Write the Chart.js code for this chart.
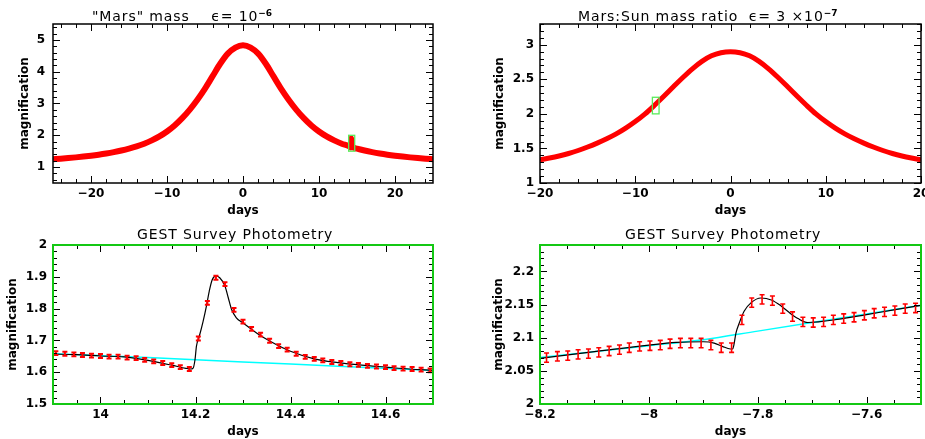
<!DOCTYPE html>
<html>
<head>
<meta charset="utf-8">
<script src="https://cdn.jsdelivr.net/npm/chart.js@4"></script>
<style>
body{margin:0;background:#fff;width:925px;height:439px;position:relative;overflow:hidden;font-family:"DejaVu Sans",sans-serif}
canvas{position:absolute}
.ttl{position:absolute;white-space:pre;font-size:14px;line-height:14px;letter-spacing:0.9px;color:#000}
.ttl sup{font-size:9px;font-weight:bold;vertical-align:5px;letter-spacing:0}
</style>
</head>
<body>
<canvas id="c1" width="460" height="220" style="left:0;top:0"></canvas>
<canvas id="c2" width="465" height="220" style="left:460px;top:0"></canvas>
<canvas id="c3" width="460" height="219" style="left:0;top:220px"></canvas>
<canvas id="c4" width="465" height="219" style="left:460px;top:220px"></canvas>
<div class="ttl" style="left:92px;top:6px">"Mars" mass    ϵ= 10<sup>−6</sup></div>
<div class="ttl" style="left:578px;top:6px">Mars:Sun mass ratio  ϵ= 3 ×10<sup>−7</sup></div>
<div class="ttl" style="left:137px;top:227px">GEST Survey Photometry</div>
<div class="ttl" style="left:625px;top:227px">GEST Survey Photometry</div>
<script>
// top left: full light curve, "Mars" mass
var days1 = [-25,-24,-23,-22,-21,-20,-19,-18,-17,-16,-15,-14,-13,-12,-11,-10,-9,-8,-7,-6,-5,-4,-3,-2,-1,
    0,1,2,3,4,5,6,7,8,9,10,11,12,13,14,14.19,14.25,14.3,14.45,15,16,17,18,19,20,21,22,23,24,25]
var mag1 = [1.246,1.264,1.284,1.306,1.331,1.359,1.391,1.428,1.471,1.521,1.58,1.65,1.735,1.84,1.965,2.12,2.31,2.54,2.81,3.12,3.47,3.86,4.25,4.57,4.76,
    4.83,4.76,4.57,4.25,3.86,3.47,3.12,2.81,2.54,2.31,2.12,1.965,1.84,1.735,1.65,1.615,1.90,1.755,1.642,1.58,1.521,1.471,1.428,1.391,1.359,1.331,1.306,1.284,1.264,1.246]

// top right: full light curve, Mars:Sun ratio
var days2 = [-20,-19,-18,-17,-16,-15,-14,-13,-12,-11,-10,-9,-8,-7,-6,-5,-4,-3,-2,-1,
    0,1,2,3,4,5,6,7,8,9,10,11,12,13,14,15,16,17,18,19,20]
var mag2 = [1.335,1.361,1.391,1.427,1.47,1.521,1.577,1.639,1.71,1.793,1.888,1.996,2.121,2.254,2.391,2.526,2.652,2.76,2.84,2.885,
    2.90,2.885,2.84,2.76,2.652,2.526,2.391,2.254,2.121,1.996,1.888,1.793,1.71,1.639,1.577,1.521,1.47,1.427,1.391,1.361,1.335]

// bottom left: GEST photometry around day 14.3
var days3 = [13.906,13.925,13.944,13.962,13.981,14.000,14.018,14.037,14.056,14.075,14.093,14.112,14.131,14.150,14.168,14.187,
    14.206,14.225,14.243,14.262,14.281,14.300,14.318,14.337,14.356,14.375,14.393,14.412,14.431,14.450,14.468,14.487,14.506,
    14.525,14.543,14.562,14.581,14.600,14.618,14.637,14.656,14.675,14.694]
var mag3 = [1.660,1.658,1.656,1.654,1.652,1.651,1.649,1.649,1.646,1.644,1.639,1.634,1.629,1.622,1.616,1.610,
    1.706,1.818,1.897,1.877,1.796,1.759,1.736,1.718,1.699,1.682,1.671,1.658,1.648,1.642,1.637,1.632,1.629,
    1.625,1.623,1.620,1.618,1.616,1.613,1.611,1.610,1.608,1.606]
var err3 = 0.006
var modelDays3 = [13.90,13.95,14.00,14.05,14.10,14.15,14.18,14.19,14.195,14.199,14.202,14.208,14.216,14.223,14.229,14.235,
    14.243,14.251,14.262,14.269,14.276,14.286,14.300,14.33,14.36,14.40,14.45,14.50,14.55,14.60,14.65,14.70]
var modelMag3 = [1.657,1.655,1.651,1.648,1.637,1.622,1.612,1.610,1.613,1.640,1.682,1.713,1.760,1.808,1.855,1.890,
    1.902,1.897,1.871,1.834,1.797,1.771,1.755,1.722,1.695,1.666,1.642,1.630,1.622,1.616,1.610,1.606]
var singleDays3 = [13.9,14.1,14.3,14.5,14.7]
var singleMag3 = [1.658,1.646,1.632,1.619,1.605]

// bottom right: GEST photometry around day -7.8
var days4 = [-8.188,-8.168,-8.149,-8.130,-8.111,-8.092,-8.073,-8.054,-8.036,-8.017,-7.998,-7.979,-7.961,-7.942,-7.923,-7.904,
    -7.886,-7.867,-7.848,-7.829,-7.811,-7.792,-7.773,-7.754,-7.736,-7.717,-7.698,-7.679,-7.661,-7.642,-7.623,-7.604,
    -7.586,-7.567,-7.548,-7.529,-7.510]
var mag4 = [2.070,2.072,2.073,2.075,2.076,2.078,2.080,2.082,2.085,2.087,2.088,2.089,2.091,2.092,2.092,2.092,
    2.089,2.085,2.085,2.127,2.153,2.158,2.156,2.144,2.132,2.124,2.123,2.124,2.127,2.129,2.131,2.134,
    2.137,2.139,2.141,2.144,2.145]
var err4 = 0.007
var modelDays4 = [-8.2,-8.1,-8.0,-7.95,-7.9,-7.88,-7.865,-7.85,-7.846,-7.844,-7.840,-7.834,-7.825,-7.812,-7.794,-7.775,
    -7.757,-7.742,-7.726,-7.708,-7.65,-7.6,-7.55,-7.5]
var modelMag4 = [2.069,2.079,2.089,2.093,2.094,2.092,2.087,2.083,2.083,2.088,2.107,2.122,2.140,2.153,2.160,2.157,
    2.148,2.138,2.129,2.123,2.128,2.135,2.142,2.149]
var singleDays4 = [-8.2,-8.0,-7.9,-7.8,-7.7,-7.6,-7.5]
var singleMag4 = [2.070,2.088,2.097,2.110,2.123,2.136,2.149]

// axis ranges and tick labels
var xRange1 = [-25,25], yRange1 = [0.5,5.5]
var xTicks1 = [-20,-10,0,10,20], yTicks1 = [1,2,3,4,5]
var xRange2 = [-20,20], yRange2 = [1,3.3]
var xTicks2 = [-20,-10,0,10,20], yTicks2 = [1,1.5,2,2.5,3]
var xRange3 = [13.9,14.7], yRange3 = [1.5,2.0]
var xTicks3 = [14,14.2,14.4,14.6], yTicks3 = [1.5,1.6,1.7,1.8,1.9,2]
var xRange4 = [-8.2,-7.5], yRange4 = [2.0,2.24]
var xTicks4 = [-8.2,-8,-7.8,-7.6], yTicks4 = [2,2.05,2.1,2.15,2.2]

const pts = (xs, ys) => xs.map((x, i) => ({x: x, y: ys[i]}))
const fmt = v => String(v).replace('-', '\u2212')
const tickFont = {family: 'DejaVu Sans', size: 12, weight: 'bold'}

// frame + inward ticks on all four sides, plus the zoom box
const framePlugin = {
    id: 'frame',
    afterDatasetsDraw(chart, args, o) {
        if (!o.box) return
        const ctx = chart.ctx, sx = chart.scales.x, sy = chart.scales.y
        const x0 = sx.getPixelForValue(o.box[0]), x1 = sx.getPixelForValue(o.box[1])
        const y0 = sy.getPixelForValue(o.box[2]), y1 = sy.getPixelForValue(o.box[3])
        ctx.save()
        ctx.strokeStyle = 'rgb(90,235,90)'
        ctx.lineWidth = 1.3
        ctx.strokeRect(x0, y1, x1 - x0, y0 - y1)
        ctx.restore()
    },
    afterDraw(chart, args, o) {
        const ctx = chart.ctx, a = chart.chartArea
        ctx.save()
        ctx.strokeStyle = '#000'
        ctx.lineWidth = 1
        ;['x', 'y'].forEach(k => {
            const s = chart.scales[k], minor = o.minor[k], major = o.major[k]
            const n = Math.round((s.max - s.min) / minor)
            const start = Math.ceil(s.min / minor - 1e-6) * minor
            for (let i = 0; i <= n; i++) {
                const v = start + i * minor
                if (v > s.max + 1e-9) break
                const q = v / major
                const len = Math.abs(q - Math.round(q)) < 1e-6 ? 7 : 4
                const p = Math.round(s.getPixelForValue(v)) + 0.5
                ctx.beginPath()
                if (k == 'x') {
                    ctx.moveTo(p, a.bottom); ctx.lineTo(p, a.bottom - len)
                    ctx.moveTo(p, a.top); ctx.lineTo(p, a.top + len)
                } else {
                    ctx.moveTo(a.left, p); ctx.lineTo(a.left + len, p)
                    ctx.moveTo(a.right, p); ctx.lineTo(a.right - len, p)
                }
                ctx.stroke()
            }
        })
        ctx.strokeStyle = o.color
        ctx.lineWidth = o.width
        ctx.strokeRect(a.left, a.top, a.right - a.left, a.bottom - a.top)
        ctx.restore()
    }
}

// vertical error bars with caps
const errPlugin = {
    id: 'errbars',
    afterDatasetsDraw(chart) {
        const ctx = chart.ctx, sy = chart.scales.y
        chart.data.datasets.forEach((ds, i) => {
            if (!ds.err) return
            const meta = chart.getDatasetMeta(i)
            ctx.save()
            ctx.strokeStyle = ds.borderColor
            ctx.lineWidth = ds.barWidth
            meta.data.forEach((pt, j) => {
                const v = ds.data[j].y
                const y0 = sy.getPixelForValue(v - ds.err), y1 = sy.getPixelForValue(v + ds.err)
                ctx.beginPath()
                ctx.moveTo(pt.x, y0); ctx.lineTo(pt.x, y1)
                ctx.moveTo(pt.x - ds.cap, y0); ctx.lineTo(pt.x + ds.cap, y0)
                ctx.moveTo(pt.x - ds.cap, y1); ctx.lineTo(pt.x + ds.cap, y1)
                ctx.stroke()
            })
            ctx.restore()
        })
    }
}

Chart.register(framePlugin, errPlugin)

function panel(id, datasets, L) {
    return new Chart(document.getElementById(id).getContext('2d'), {
        type: 'line',
        data: {datasets: datasets},
        options: {
            responsive: false,
            animation: false,
            events: [],
            layout: {padding: L.pad},
            plugins: {
                legend: {display: false},
                tooltip: {enabled: false},
                frame: {minor: L.minor, major: L.major, color: L.frame, width: L.frameWidth, box: L.box}
            },
            scales: {
                x: {
                    type: 'linear', min: L.xr[0], max: L.xr[1],
                    grid: {display: false, drawTicks: false}, border: {display: false},
                    afterBuildTicks: s => { s.ticks = L.xt.map(v => ({value: v})) },
                    afterFit: s => { s.height = L.xh; s.paddingLeft = 0; s.paddingRight = 0 },
                    ticks: {autoSkip: false, minRotation: 0, maxRotation: 0, padding: 4, color: '#000', font: tickFont, callback: v => fmt(v)},
                    title: {display: true, text: 'days', color: '#000', font: tickFont, padding: {top: 0, bottom: L.xtp}}
                },
                y: {
                    type: 'linear', min: L.yr[0], max: L.yr[1],
                    grid: {display: false, drawTicks: false}, border: {display: false},
                    afterBuildTicks: s => { s.ticks = L.yt.map(v => ({value: v})) },
                    afterFit: s => { s.width = L.yw; s.paddingTop = 0; s.paddingBottom = 0 },
                    ticks: {autoSkip: false, padding: L.ytick, color: '#000', font: tickFont, callback: v => fmt(v)},
                    title: {display: true, text: 'magnification', color: '#000', font: tickFont, padding: {top: L.ytp, bottom: 0}}
                }
            }
        }
    })
}

const bigCurve = (xs, ys, w) => ({
    data: pts(xs, ys), borderColor: 'rgb(255,0,0)', borderWidth: w,
    pointRadius: 0, cubicInterpolationMode: 'monotone', borderCapStyle: 'butt'
})
const modelLine = (xs, ys) => ({
    data: pts(xs, ys), borderColor: '#000', borderWidth: 1.2,
    pointRadius: 0, cubicInterpolationMode: 'monotone'
})
const singleLine = (xs, ys) => ({
    data: pts(xs, ys), borderColor: 'rgb(0,255,255)', borderWidth: 1.5,
    pointRadius: 0, cubicInterpolationMode: 'monotone'
})
const photometry = (xs, ys, e, w) => ({
    data: pts(xs, ys), borderColor: 'rgb(255,0,0)', showLine: false,
    pointRadius: 0, err: e, cap: 2.5, barWidth: w
})

panel('c1', [bigCurve(days1, mag1, 6)], {
    pad: {left: 0, top: 24, right: 27, bottom: 0}, xr: xRange1, yr: yRange1, xt: xTicks1, yt: yTicks1,
    yw: 53, xh: 37, ytp: 18, ytick: 8, xtp: 2,
    minor: {x: 2, y: 0.2}, major: {x: 10, y: 1}, frame: '#000', frameWidth: 1.5, box: [13.9, 14.7, 1.5, 2.0]
})
panel('c2', [bigCurve(days2, mag2, 5)], {
    pad: {left: 0, top: 24, right: 4, bottom: 0}, xr: xRange2, yr: yRange2, xt: xTicks2, yt: yTicks2,
    yw: 80, xh: 37, ytp: 33, ytick: 6, xtp: 2,
    minor: {x: 2, y: 0.1}, major: {x: 10, y: 0.5}, frame: '#000', frameWidth: 1.5, box: [-8.2, -7.5, 2.0, 2.24]
})
panel('c3', [photometry(days3, mag3, err3, 2), modelLine(modelDays3, modelMag3), singleLine(singleDays3, singleMag3)], {
    pad: {left: 0, top: 25, right: 27, bottom: 0}, xr: xRange3, yr: yRange3, xt: xTicks3, yt: yTicks3,
    yw: 53, xh: 35, ytp: 6, ytick: 6, xtp: 0,
    minor: {x: 0.05, y: 0.02}, major: {x: 0.2, y: 0.1}, frame: 'rgb(20,200,20)', frameWidth: 2
})
panel('c4', [photometry(days4, mag4, err4, 1.6), modelLine(modelDays4, modelMag4), singleLine(singleDays4, singleMag4)], {
    pad: {left: 0, top: 25, right: 4, bottom: 0}, xr: xRange4, yr: yRange4, xt: xTicks4, yt: yTicks4,
    yw: 80, xh: 35, ytp: 32, ytick: 6, xtp: 0,
    minor: {x: 0.05, y: 0.01}, major: {x: 0.2, y: 0.05}, frame: 'rgb(20,200,20)', frameWidth: 2
})
</script>
</body>
</html>
